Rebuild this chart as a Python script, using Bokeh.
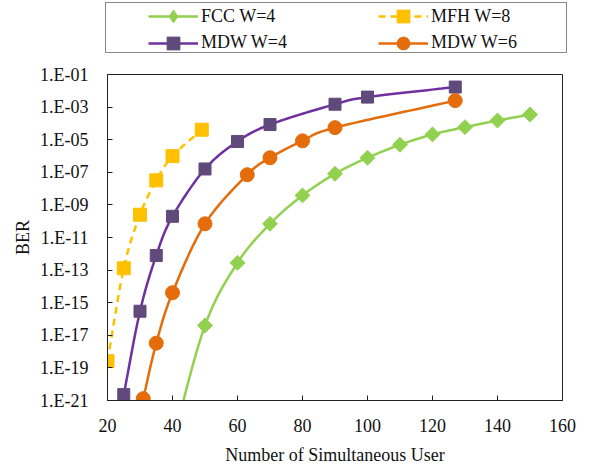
import numpy as np
from bokeh.plotting import figure
from bokeh.layouts import column
from bokeh.models import (Legend, LegendItem, FixedTicker, CustomJSTickFormatter, Range1d)
from bokeh.embed import file_html
from bokeh.resources import INLINE

# ---- data ----
fcc_x = [40, 50, 60, 70, 80, 90, 100, 110, 120, 130, 140, 150]
fcc_y = [3e-24, 4e-17, 2.8e-13, 6.9e-11, 3.8e-9, 8.1e-8, 7.8e-7, 4.9e-6, 2.1e-5, 5.9e-5, 1.5e-4, 3.5e-4]

mfh_x = [20, 25, 30, 35, 40, 49]
mfh_y = [2.6e-19, 1.3e-13, 2.5e-10, 3.2e-8, 9.8e-7, 4.1e-5]

mdw4_x = [25, 30, 35, 40, 50, 60, 70, 90, 100, 127]
mdw4_y = [2.3e-21, 3.0e-16, 7.9e-13, 2.0e-10, 1.6e-7, 7.8e-6, 8.5e-5, 1.5e-3, 4.1e-3, 1.7e-2]

mdw6_x = [31, 35, 40, 50, 63, 70, 80, 90, 127]
mdw6_y = [1.3e-21, 3.3e-18, 4.1e-15, 6.9e-11, 7.1e-8, 7.8e-7, 8.5e-6, 5.5e-5, 2.5e-3]

series_labels = ["FCC W=4", "MFH W=8", "MDW W=4", "MDW W=6"]
y_ticks = [1e-1, 1e-3, 1e-5, 1e-7, 1e-9, 1e-11, 1e-13, 1e-15, 1e-17, 1e-19, 1e-21]
x_ticks = [20, 40, 60, 80, 100, 120, 140, 160]

FONT = "Liberation Serif"
FS = "18px"

GREEN = "#92D050"
YELLOW = "#FFC000"
PURPLE = "#7030A0"
PURPLE_M = "#604A7B"
ORANGE = "#E46C0A"


def smooth(xs, ys, n=20):
    """Catmull-Rom curve through the points (in log space) to draw a smoothed line."""
    x = np.array(xs, float)
    ly = np.log10(np.array(ys, float))
    px = np.concatenate([[2 * x[0] - x[1]], x, [2 * x[-1] - x[-2]]])
    py = np.concatenate([[2 * ly[0] - ly[1]], ly, [2 * ly[-1] - ly[-2]]])
    ox, oy = [], []
    for i in range(1, len(px) - 2):
        t = np.linspace(0, 1, n, endpoint=False)
        for arr, out in ((px, ox), (py, oy)):
            p0, p1, p2, p3 = arr[i - 1], arr[i], arr[i + 1], arr[i + 2]
            v = 0.5 * ((2 * p1) + (-p0 + p2) * t + (2 * p0 - 5 * p1 + 4 * p2 - p3) * t ** 2
                       + (-p0 + 3 * p1 - 3 * p2 + p3) * t ** 3)
            out.extend(v.tolist())
    ox.append(x[-1]); oy.append(ly[-1])
    return ox, (10 ** np.array(oy)).tolist()


W = 590
LEG_H = 62
H = 468 - LEG_H
TOP, BOTTOM, LEFT, RIGHT = 74 - LEG_H, 68, 107, 28

styles = [
    dict(line=dict(line_color=GREEN, line_width=2.5),
         mark=dict(marker="square", angle=np.pi / 4, size=10.5, fill_color=GREEN, line_color=GREEN),
         legmark=dict(marker="diamond", fill_color=GREEN, line_color=GREEN)),
    dict(line=dict(line_color=YELLOW, line_width=2.5, line_dash="7 5"),
         mark=dict(marker="square", size=13, fill_color=YELLOW, line_color=YELLOW),
         legmark=dict(marker="square", fill_color=YELLOW, line_color=YELLOW)),
    dict(line=dict(line_color=PURPLE, line_width=2.5),
         mark=dict(marker="square", size=12, fill_color=PURPLE_M, line_color=PURPLE_M),
         legmark=dict(marker="square", fill_color=PURPLE_M, line_color=PURPLE_M)),
    dict(line=dict(line_color=ORANGE, line_width=2.5),
         mark=dict(marker="circle", size=14, fill_color=ORANGE, line_color=ORANGE),
         legmark=dict(marker="circle", fill_color=ORANGE, line_color=ORANGE)),
]
series = [(fcc_x, fcc_y), (mfh_x, mfh_y), (mdw4_x, mdw4_y), (mdw6_x, mdw6_y)]

# ---------------- main chart ----------------
p = figure(width=W, height=H, output_backend="svg", toolbar_location=None,
           y_axis_type="log", x_range=Range1d(20, 160), y_range=Range1d(1e-21, 1e-1),
           min_border_left=LEFT, min_border_right=RIGHT, min_border_bottom=BOTTOM,
           min_border_top=TOP)
p.background_fill_color = "white"
p.border_fill_color = "white"
p.outline_line_color = "#222222"
p.outline_line_width = 1
p.grid.visible = False

for (xs, ys), st in zip(series, styles):
    sx, sy = smooth(xs, ys)
    p.line(sx, sy, **st["line"])
    p.scatter(xs, ys, **st["mark"])

p.xaxis.ticker = FixedTicker(ticks=x_ticks)
p.yaxis.ticker = FixedTicker(ticks=y_ticks)
p.yaxis.formatter = CustomJSTickFormatter(code="""
    const e = Math.round(Math.log10(tick));
    const a = Math.abs(e);
    return '1.E' + (e < 0 ? '-' : '+') + (a < 10 ? '0' + a : '' + a);
""")
for ax in (p.xaxis, p.yaxis):
    ax.major_tick_in = 5
    ax.major_tick_out = 0
    ax.minor_tick_in = 0
    ax.minor_tick_out = 0
    ax.axis_line_color = "#222222"
    ax.major_tick_line_color = "#222222"
    ax.major_label_text_font = FONT
    ax.major_label_text_font_size = FS
    ax.major_label_text_color = "#111111"
    ax.axis_label_text_font = FONT
    ax.axis_label_text_font_size = FS
    ax.axis_label_text_font_style = "normal"
    ax.axis_label_text_color = "#111111"

p.xaxis.axis_label = "Number of Simultaneous User"
p.yaxis.axis_label = "BER"
p.xaxis.major_label_standoff = 18
p.yaxis.major_label_standoff = 19
p.xaxis.axis_label_standoff = 10
p.yaxis.axis_label_standoff = 4

# ---------------- legend strip (a plot area covering the whole strip) ----------------
lg = figure(width=W, height=LEG_H, output_backend="svg", toolbar_location=None,
            x_range=Range1d(0, 1), y_range=Range1d(0, 1),
            x_axis_location=None, y_axis_location=None,
            min_border_left=0, min_border_right=0, min_border_top=0, min_border_bottom=0)
lg.outline_line_color = None
lg.grid.visible = False
lg.border_fill_color = "white"
lg.background_fill_color = "white"
for fig in (lg, p):
    try:
        fig.frame_align = False
    except Exception:
        pass

dummy = lg.line(x=[], y=[], line_alpha=0)
box = Legend(items=[LegendItem(label=" ", renderers=[dummy])],
             location=(105, LEG_H - 53),
             padding=0, margin=0, spacing=0, glyph_width=10, glyph_height=49,
             label_standoff=0, label_width=450, label_height=49,
             border_line_color="#111111", border_line_width=1.5,
             background_fill_color="white", background_fill_alpha=1.0,
             label_text_alpha=0)
lg.add_layout(box, "center")

positions = [(148, 32), (378, 32), (148, 58.7), (378, 58.7)]
for (xs, ys), label, st, (x, bottom) in zip(series, series_labels, styles, positions):
    # same series, styled alike; they fall outside this strip's (0..1) ranges, so only
    # their legend swatches show
    r_line = lg.line(xs, ys, **st["line"])
    r_mark = lg.scatter(xs, ys, size=12, **st["legmark"])
    item_legend = Legend(items=[LegendItem(label=label, renderers=[r_line, r_mark])],
                         location=(x, LEG_H - bottom),
                         padding=0, margin=0, spacing=0, glyph_width=50, glyph_height=32,
                         label_standoff=3, label_height=20,
                         border_line_alpha=0, background_fill_alpha=0,
                         label_text_font=FONT, label_text_font_size=FS,
                         label_text_color="#111111")
    lg.add_layout(item_legend, "center")

layout = column(lg, p, spacing=0)
open("out.html", "w").write(file_html(layout, INLINE))
